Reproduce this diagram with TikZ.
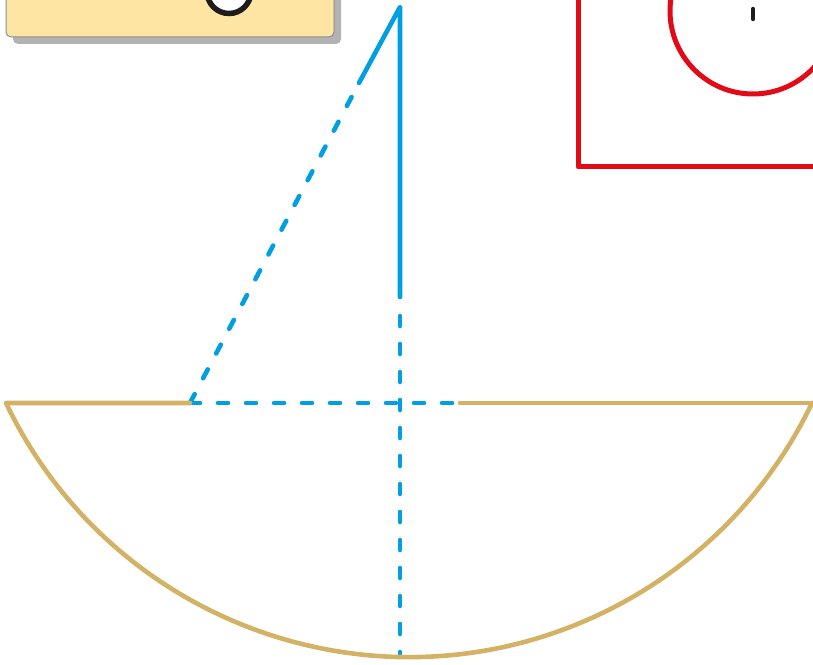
\documentclass[tikz,border=0pt]{standalone}
\definecolor{boxyellow}{HTML}{FFE5A3}
\definecolor{shadowgray}{HTML}{B2B2B2}
\definecolor{boxborder}{HTML}{8C8C8C}
\definecolor{sailblue}{HTML}{009FE3}
\definecolor{framered}{HTML}{E30A17}
\definecolor{hulltan}{HTML}{D4B265}
\definecolor{inkblack}{HTML}{1D1D1B}
\begin{document}
\begin{tikzpicture}[x=1pt,y=1pt,
  sailline/.style={draw=sailblue,line width=4.6pt,line cap=round,line join=round},
  saildash/.style={sailline,dash pattern=on 10pt off 18pt},
  hullline/.style={draw=hulltan,line width=4.6pt,line cap=round,line join=round},
  redline/.style={draw=framered,line width=5pt,line join=round}]
\useasboundingbox (0,0) rectangle (813,664);
\clip (0,0) rectangle (813,664);
% yellow card with shadow
\fill[shadowgray,rounded corners=5pt] (13,620) rectangle (341,690);
\filldraw[fill=boxyellow,draw=boxborder,line width=1pt,rounded corners=5pt] (6,627) rectangle (334,690);
\draw[inkblack,line width=5.5pt,fill=white] (229,672.5) circle (22);
% red frame with circle
\draw[redline] (830,497) -- (578,497) -- (578,680);
\draw[redline] (753,653) circle (83);
\draw[inkblack,line width=4.5pt,line cap=round] (753,655) -- (753,645);
% sail
\coordinate (apex) at (400,657);
\coordinate (hypmid) at (359,581);
\coordinate (tack) at (190,261);
\coordinate (mastmid) at (400,367);
\coordinate (mastdash) at (400,348);
\coordinate (keel) at (400,7);
\coordinate (deckmid) at (460,261);
\draw[sailline] (hypmid) -- (apex) -- (mastmid);
\draw[saildash] (tack) -- (hypmid);
\draw[saildash] (mastdash) -- (keel);
\draw[saildash] (tack) -- (deckmid);
% hull
\coordinate (bowL) at (6,261);
\coordinate (bowR) at (812,261);
\draw[hullline] (tack) -- (bowL) arc[start angle=205.55,end angle=334.45,radius=446.7] -- (830,261);
\draw[hullline] (deckmid) -- (830,261);
\end{tikzpicture}
\end{document}
